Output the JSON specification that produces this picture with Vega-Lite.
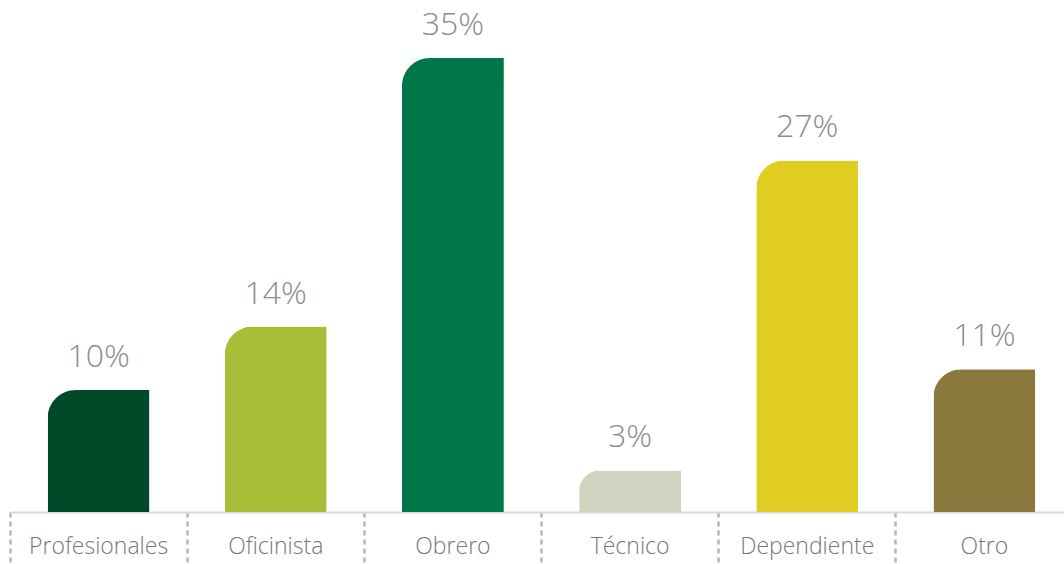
{
  "$schema": "https://vega.github.io/schema/vega-lite/v6.json",
  "width": 1054,
  "height": 454,
  "autosize": {"type": "none"},
  "padding": {"left": 10, "top": 58, "right": 0, "bottom": 52},
  "background": "white",
  "config": {"view": {"stroke": null}},
  "data": {
    "values": [
      {"cat": "Profesionales", "pct": 9.4, "label": "10%", "color": "#004a2a"},
      {"cat": "Oficinista", "pct": 14.3, "label": "14%", "color": "#a9bd38"},
      {"cat": "Obrero", "pct": 35, "label": "35%", "color": "#007748"},
      {"cat": "Técnico", "pct": 3.2, "label": "3%", "color": "#cfd3bf"},
      {"cat": "Dependiente", "pct": 27.1, "label": "27%", "color": "#dfcd22"},
      {"cat": "Otro", "pct": 11.0, "label": "11%", "color": "#8a783c"}
    ]
  },
  "encoding": {
    "x": {
      "field": "cat",
      "type": "nominal",
      "sort": null,
      "scale": {"paddingInner": 0, "paddingOuter": 0, "range": [0, 1063]},
      "axis": {
        "title": null,
        "labelAngle": 0,
        "bandPosition": 0,
        "domainColor": "#d9d9d9",
        "domainWidth": 2,
        "tickColor": "#b5b5b5",
        "tickWidth": 2.5,
        "tickDash": [5, 4],
        "tickSize": 52,
        "labelPadding": -11,
        "labelBaseline": "alphabetic",
        "labelFont": "Open Sans",
        "labelFontWeight": 300,
        "labelFontSize": 23,
        "labelColor": "#777777"
      }
    },
    "y": {
      "field": "pct",
      "type": "quantitative",
      "scale": {"domain": [0, 35], "nice": false},
      "axis": null
    }
  },
  "layer": [
    {
      "mark": {"type": "bar", "width": {"band": 0.575}, "cornerRadiusTopLeft": 28},
      "encoding": {
        "color": {"field": "color", "type": "nominal", "scale": null, "legend": null}
      }
    },
    {
      "mark": {
        "type": "text",
        "baseline": "alphabetic",
        "dy": -23,
        "font": "Open Sans",
        "fontWeight": 300,
        "fontSize": 32,
        "color": "#8c8c8c"
      },
      "encoding": {"text": {"field": "label"}}
    }
  ]
}
